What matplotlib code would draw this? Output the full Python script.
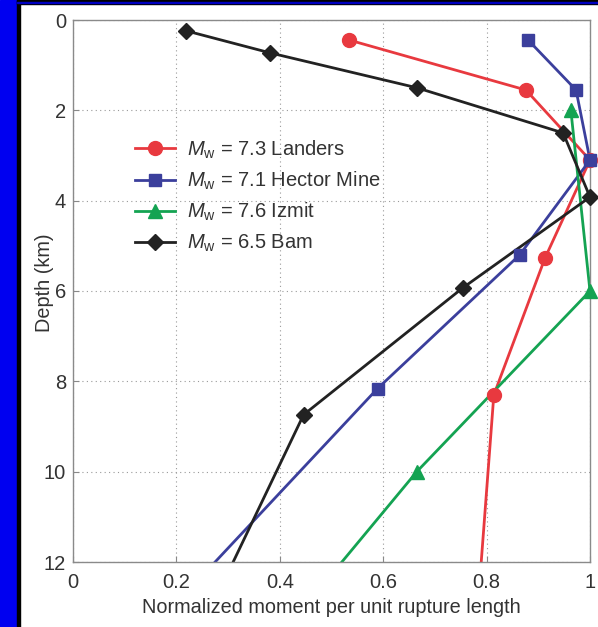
import matplotlib
matplotlib.use('Agg')
import matplotlib.pyplot as plt
from matplotlib.lines import Line2D
from matplotlib.patches import Rectangle

plt.rcParams['font.family'] = ['Liberation Sans', 'DejaVu Sans']
plt.rcParams['mathtext.fontset'] = 'custom'
plt.rcParams['mathtext.it'] = 'Liberation Sans:italic'
plt.rcParams['mathtext.rm'] = 'Liberation Sans'

# moment (normalized) vs depth (km); last point of each lies below 12 km
landers_m = [0.533, 0.876, 1.0, 0.913, 0.814, 0.783]
landers_d = [0.44, 1.55, 3.1, 5.27, 8.3, 13.0]
hector_m = [0.88, 0.973, 1.0, 0.864, 0.589, 0.193]
hector_d = [0.44, 1.55, 3.1, 5.2, 8.16, 13.0]
izmit_m = [0.963, 1.0, 0.665, 0.375]
izmit_d = [2.0, 6.0, 10.0, 14.0]
bam_m = [0.219, 0.382, 0.665, 0.948, 1.0, 0.754, 0.446, 0.268]
bam_d = [0.24, 0.73, 1.5, 2.5, 3.92, 5.93, 8.74, 13.0]

names = ['7.3 Landers', '7.1 Hector Mine', '7.6 Izmit', '6.5 Bam']
colors = ['#e8393f', '#3b3f9c', '#14a352', '#222222']
markers = ['o', 's', '^', 'D']
msizes = [10, 8.5, 10, 8.5]

series = [(landers_m, landers_d), (hector_m, hector_d),
          (izmit_m, izmit_d), (bam_m, bam_d)]

fig = plt.figure(figsize=(5.98, 6.27), dpi=100)
ax = fig.add_axes([73 / 598, 1 - 562 / 627, 517 / 598, 542 / 627])

handles = []
for (m, d), name, c, mk, ms in zip(series, names, colors, markers, msizes):
    ax.plot(m, d, '-', color=c, lw=2.0, zorder=2)
    vis = [i for i in range(len(d)) if d[i] <= 12]
    ax.plot([m[i] for i in vis], [d[i] for i in vis], ls='none', marker=mk,
            ms=ms, color=c, clip_on=False, zorder=3)
    handles.append(Line2D([], [], color=c, lw=2.0, marker=mk, ms=ms,
                          label=r'$M_{\mathrm{w}}$ = ' + name))

ax.set_xlim(0, 1)
ax.set_ylim(12, 0)
ax.set_xticks([0, 0.2, 0.4, 0.6, 0.8, 1])
ax.set_xticklabels(['0', '0.2', '0.4', '0.6', '0.8', '1'])
ax.set_yticks([0, 2, 4, 6, 8, 10, 12])
ax.tick_params(direction='in', length=4, color='#888888', labelsize=14.5,
               labelcolor='#333333', pad=5)
ax.tick_params(axis='x', pad=8)
ax.grid(True, ls=(0, (1, 3)), color='#999999', lw=0.8)
for s in ax.spines.values():
    s.set_color('#8a8a8a')
    s.set_linewidth(1.0)

ax.set_xlabel('Normalized moment per unit rupture length', fontsize=14.3,
              color='#333333', labelpad=4)
ax.set_ylabel('Depth (km)', fontsize=14.3, color='#333333')
ax.yaxis.set_label_coords(-0.036, 0.515)

ax.legend(handles=handles, loc='upper left', bbox_to_anchor=(0.1, 0.80),
          frameon=False, fontsize=14.5, handlelength=2.0, handletextpad=0.6,
          labelspacing=0.45, labelcolor='#333333', borderpad=0)

# blue/black frame on left and top
fig.patches.append(Rectangle((0, 0), 17 / 598, 1, transform=fig.transFigure,
                             color='#0000f0', zorder=-1))
fig.patches.append(Rectangle((17 / 598, 0), 3 / 598, 1, transform=fig.transFigure,
                             color='#000000', zorder=-1))
fig.patches.append(Rectangle((17 / 598, 1 - 4 / 627), 1, 4 / 627,
                             transform=fig.transFigure, color='#000000', zorder=-1))
fig.patches.append(Rectangle((17 / 598, 1 - 3 / 627), 1, 1 / 627,
                             transform=fig.transFigure, color='#0000c0', zorder=-1))

fig.savefig('out.png', dpi=100)
